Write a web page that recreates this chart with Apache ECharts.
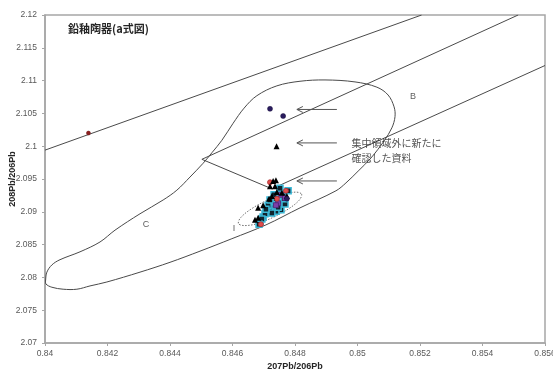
<!DOCTYPE html>
<html>
<head>
<meta charset="utf-8">
<script src="https://cdn.jsdelivr.net/npm/echarts@6/dist/echarts.min.js"></script>
<style>
  html, body { margin: 0; padding: 0; background: #fff; }
  #chart { width: 553px; height: 371px; }
</style>
</head>
<body>
<div id="chart"></div>
<script>
// Axis ticks
const xTicks = [0.84, 0.842, 0.844, 0.846, 0.848, 0.85, 0.852, 0.854, 0.856];
const yTicks = [2.07, 2.075, 2.08, 2.085, 2.09, 2.095, 2.1, 2.105, 2.11, 2.115, 2.12];

// Region outline (C tail + concentration lobe), closed
const regionOutline = [
  [0.84002, 2.0796], [0.84006, 2.0808], [0.84022, 2.0819], [0.84048, 2.0827],
  [0.84112, 2.0839], [0.84176, 2.0854], [0.84224, 2.0872], [0.84304, 2.0897],
  [0.84378, 2.0918], [0.84422, 2.0933], [0.84464, 2.0953], [0.84506, 2.0974],
  [0.84534, 2.0990], [0.84566, 2.1009], [0.84602, 2.1035], [0.84637, 2.1058],
  [0.84678, 2.1077], [0.84742, 2.1092], [0.84816, 2.1099], [0.84896, 2.1101],
  [0.84992, 2.1098], [0.85062, 2.1090], [0.85098, 2.1078], [0.85117, 2.1060],
  [0.85120, 2.1045], [0.85110, 2.1028], [0.85085, 2.1008], [0.85043, 2.0982],
  [0.85002, 2.0962], [0.84963, 2.0944], [0.84931, 2.0932], [0.84816, 2.0906],
  [0.84707, 2.0880], [0.84598, 2.0859], [0.84496, 2.0840], [0.84400, 2.0823],
  [0.84304, 2.0808], [0.84198, 2.0793], [0.84144, 2.0787], [0.84102, 2.0782],
  [0.84058, 2.0782], [0.84022, 2.0785], [0.84003, 2.0790]
];

// Upper band line
const bandLineA = [[0.84, 2.0994], [0.85205, 2.12]];

// Band B: upper edge, V-shaped closure, lower edge
const bandLineB = [[0.85514, 2.12], [0.84502, 2.0980], [0.84726, 2.0935], [0.856, 2.1123]];

// Region I (dotted ellipse)
const ellipseI = [
  [0.84821, 2.0927], [0.84814, 2.0918], [0.84781, 2.0905], [0.84732, 2.0892],
  [0.84680, 2.0882], [0.84638, 2.0879], [0.84619, 2.0882], [0.84626, 2.0891],
  [0.84659, 2.0904], [0.84708, 2.0917], [0.84760, 2.0926], [0.84802, 2.0930]
];

// Sample groups
const navyCircles = [[0.84720, 2.1057], [0.84762, 2.1046], [0.84774, 2.0920]];
const blackTriangles = [
  [0.84741, 2.1000], [0.84730, 2.0947], [0.84739, 2.0948], [0.84720, 2.0939],
  [0.84736, 2.0939], [0.84742, 2.0930], [0.84758, 2.0929], [0.84774, 2.0924],
  [0.84726, 2.0924], [0.84682, 2.0906], [0.84682, 2.0891], [0.84672, 2.0888],
  [0.84698, 2.0910], [0.84717, 2.0920]
];
const cyanSquares = [
  [0.84752, 2.0936], [0.84778, 2.0932], [0.84762, 2.0924], [0.84723, 2.0915],
  [0.84739, 2.0920], [0.84755, 2.0903], [0.84710, 2.0900], [0.84698, 2.0892],
  [0.84688, 2.0884], [0.84730, 2.0909], [0.84749, 2.0913], [0.84768, 2.0912],
  [0.84720, 2.0906], [0.84704, 2.0897], [0.84694, 2.0889], [0.84739, 2.0901],
  [0.84765, 2.0920], [0.84733, 2.0926], [0.84714, 2.0910], [0.84726, 2.0898],
  [0.84685, 2.0881], [0.84707, 2.0904], [0.84746, 2.0907], [0.84720, 2.0918]
];
const purpleSquares = [[0.84755, 2.0926], [0.84768, 2.0921], [0.84746, 2.0913], [0.84739, 2.0910]];
const redCircles = [[0.84720, 2.0945], [0.84691, 2.0881], [0.84771, 2.0932], [0.84742, 2.0920]];
const maroonCircles = [[0.84139, 2.1020]];

// Annotation arrows: [xStart, xEnd, y]
const arrows = [[0.84934, 0.84806, 2.1056], [0.84934, 0.84806, 2.1005], [0.84934, 0.84806, 2.0947]];

// Region labels
const regionLabels = [
  { name: 'B', value: [0.85178, 2.1075] },
  { name: 'C', value: [0.84323, 2.0881] },
  { name: 'I', value: [0.84605, 2.0874] }
];
const noteLines = [
  { name: '集中領域外に新たに', value: [0.84979, 2.1005] },
  { name: '確認した資料', value: [0.84979, 2.0982] }
];

const LINE_COLOR = '#4a4a4a';
const AXIS_COLOR = '#a6a6a6';

function outlineSeries(points, closed, dashed) {
  return {
    type: 'custom',
    coordinateSystem: 'cartesian2d',
    clip: true,
    silent: true,
    z: 1,
    data: [points[0]],
    renderItem: function (params, api) {
      const pts = points.map(p => api.coord(p));
      return {
        type: closed ? 'polygon' : 'polyline',
        shape: { points: pts, smooth: 0.35 },
        style: {
          fill: 'none',
          stroke: dashed ? '#707070' : LINE_COLOR,
          lineWidth: 1,
          lineDash: dashed ? [1.5, 1.5] : null
        }
      };
    }
  };
}

function straightSeries(points) {
  return {
    type: 'line',
    data: points,
    symbol: 'none',
    silent: true,
    z: 1,
    lineStyle: { color: LINE_COLOR, width: 1 }
  };
}

function scatterSeries(points, symbol, size, fill, border, bw) {
  return {
    type: 'scatter',
    data: points,
    symbol: symbol,
    symbolSize: size,
    z: 3,
    itemStyle: { color: fill, borderColor: border, borderWidth: bw, opacity: 1 }
  };
}

const chart = echarts.init(document.getElementById('chart'), null, { renderer: 'canvas' });

chart.setOption({
  animation: false,
  backgroundColor: '#ffffff',
  title: {
    text: '鉛釉陶器(a式図)',
    left: 68,
    top: 23,
    padding: 0,
    textStyle: { fontSize: 11, fontWeight: 'bold', color: '#262626', fontFamily: '"Noto Sans CJK JP", sans-serif' }
  },
  grid: {
    left: 45, right: 8, top: 15, bottom: 28,
    containLabel: false,
    outerBoundsMode: 'none',
    show: true, borderColor: AXIS_COLOR, borderWidth: 1.5, backgroundColor: 'transparent'
  },
  xAxis: {
    type: 'value',
    min: xTicks[0], max: xTicks[xTicks.length - 1],
    interval: xTicks[1] - xTicks[0],
    name: '207Pb/206Pb',
    nameLocation: 'middle',
    nameGap: 19,
    nameMoveOverlap: false,
    nameTextStyle: { fontSize: 9, fontWeight: 'bold', color: '#262626', fontFamily: '"Liberation Sans", sans-serif' },
    splitLine: { show: false },
    axisLine: { show: true, onZero: false, lineStyle: { color: AXIS_COLOR, width: 1.5 } },
    axisTick: { show: true, length: 3, lineStyle: { color: AXIS_COLOR } },
    axisLabel: {
      fontSize: 8.5, color: '#595959', margin: 6, fontFamily: '"Liberation Sans", sans-serif',
      formatter: v => {
        const t = xTicks.find(k => Math.abs(k - v) < 1e-9);
        return t === undefined ? '' : String(t);
      }
    }
  },
  yAxis: {
    type: 'value',
    min: yTicks[0], max: yTicks[yTicks.length - 1],
    interval: yTicks[1] - yTicks[0],
    name: '208Pb/206Pb',
    nameLocation: 'middle',
    nameRotate: 90,
    nameGap: 28,
    nameMoveOverlap: false,
    nameTextStyle: { fontSize: 9, fontWeight: 'bold', color: '#262626', fontFamily: '"Liberation Sans", sans-serif' },
    splitLine: { show: false },
    axisLine: { show: true, onZero: false, lineStyle: { color: AXIS_COLOR, width: 1.5 } },
    axisTick: { show: true, length: 3, lineStyle: { color: AXIS_COLOR } },
    axisLabel: {
      fontSize: 8.5, color: '#595959', margin: 8, fontFamily: '"Liberation Sans", sans-serif',
      formatter: v => {
        const t = yTicks.find(k => Math.abs(k - v) < 1e-9);
        return t === undefined ? '' : String(t);
      }
    }
  },
  series: [
    outlineSeries(regionOutline, true, false),
    outlineSeries(ellipseI, true, true),
    straightSeries(bandLineA),
    straightSeries(bandLineB),
    {
      type: 'custom',
      coordinateSystem: 'cartesian2d',
      silent: true,
      z: 2,
      data: arrows,
      encode: { x: [0, 1], y: 2 },
      renderItem: function (params, api) {
        const a = api.coord([api.value(0), api.value(2)]);
        const b = api.coord([api.value(1), api.value(2)]);
        const st = { stroke: '#555555', lineWidth: 1, fill: 'none' };
        return {
          type: 'group',
          children: [
            { type: 'line', shape: { x1: a[0], y1: a[1], x2: b[0], y2: b[1] }, style: st },
            { type: 'polyline', shape: { points: [[b[0] + 6, b[1] - 3], [b[0], b[1]], [b[0] + 6, b[1] + 3]] }, style: st }
          ]
        };
      }
    },
    scatterSeries(cyanSquares, 'rect', 6, '#10242e', '#3bb8d6', 1.5),
    scatterSeries(purpleSquares, 'rect', 5, '#7b3fa8', '#4b2372', 0.8),
    scatterSeries(redCircles, 'circle', 5, '#e04c4c', '#a83030', 0.8),
    scatterSeries(blackTriangles, 'triangle', 6, '#000000', '#000000', 0),
    scatterSeries(navyCircles, 'circle', 5, '#2a1c5e', '#1a1040', 0.5),
    scatterSeries(maroonCircles, 'circle', 4, '#8e1f1f', '#6a1010', 0.5),
    {
      type: 'scatter',
      data: regionLabels,
      symbolSize: 1,
      silent: true,
      z: 4,
      itemStyle: { color: 'rgba(0,0,0,0)' },
      label: {
        show: true, position: 'inside', formatter: '{b}',
        fontSize: 9, color: '#333333', fontFamily: '"Liberation Sans", sans-serif'
      }
    },
    {
      type: 'scatter',
      data: noteLines,
      symbolSize: 1,
      silent: true,
      z: 4,
      itemStyle: { color: 'rgba(0,0,0,0)' },
      label: {
        show: true, position: 'right', distance: 0, formatter: '{b}',
        fontSize: 10, color: '#262626', fontFamily: '"Noto Sans CJK JP", sans-serif'
      }
    }
  ]
});
</script>
</body>
</html>
